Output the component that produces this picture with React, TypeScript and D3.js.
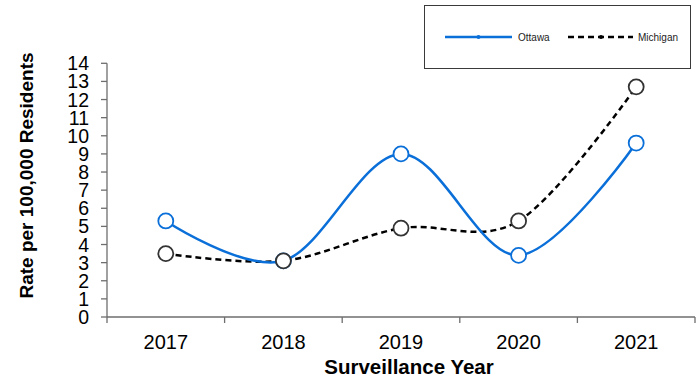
import React from "react";
import * as d3 from "d3";

const years = ["2017", "2018", "2019", "2020", "2021"];
const ottawa = [5.3, 3.1, 9.0, 3.4, 9.6];
const michigan = [3.5, 3.1, 4.9, 5.3, 12.7];
const yTicks = [0, 1, 2, 3, 4, 5, 6, 7, 8, 9, 10, 11, 12, 13, 14];

const W = 699;
const H = 381;
const left = 107;
const right = 695;
const top = 63.3;
const bottom = 317;
const blue = "#0a6fd8";
const dark = "#333333";
const axisColor = "#6e6e6e";
const font = "'Liberation Sans', Arial, sans-serif";

export default function App() {
  const x = d3.scaleBand<string>().domain(years).range([left, right]);
  const y = d3.scaleLinear().domain([0, 14]).range([bottom, top]);
  const line = d3
    .line<number>()
    .x((_, i) => (x(years[i]) as number) + x.bandwidth() / 2)
    .y((d) => y(d))
    .curve(d3.curveCatmullRom.alpha(0));
  const ticksX = years.map((yr) => x(yr) as number).concat([right]);

  return (
    <svg width={W} height={H} style={{ position: "absolute", left: 0, top: 0 }}>
      <rect width={W} height={H} fill="#fff" />
      {/* legend */}
      <rect x={424.5} y={5.5} width={266} height={63} fill="#fff" stroke="#3a3a3a" strokeWidth={1} />
      <line x1={445} x2={512} y1={37} y2={37} stroke={blue} strokeWidth={2.5} />
      <circle cx={478.5} cy={37} r={2} fill={blue} />
      <text x={518} y={40.5} fontFamily={font} fontSize={10} fill="#222">Ottawa</text>
      <line x1={568} x2={633} y1={37} y2={37} stroke="#000" strokeWidth={2.5} strokeDasharray="6,4" />
      <circle cx={601} cy={37} r={2} fill="#000" />
      <text x={638} y={40.5} fontFamily={font} fontSize={10} fill="#222">Michigan</text>

      {/* y axis */}
      <line x1={left} x2={left} y1={top} y2={bottom} stroke={axisColor} strokeWidth={1.3} />
      {yTicks.map((t) => (
        <g key={t}>
          <line x1={left - 6} x2={left} y1={y(t)} y2={y(t)} stroke={axisColor} strokeWidth={1.3} />
          <text x={89} y={y(t)} dy="0.36em" textAnchor="end" fontFamily={font} fontSize={19.5} fill="#000">
            {t}
          </text>
        </g>
      ))}
      {/* x axis */}
      <line x1={left} x2={right} y1={bottom} y2={bottom} stroke={axisColor} strokeWidth={1.3} />
      {ticksX.map((tx, i) => (
        <line key={i} x1={tx} x2={tx} y1={bottom} y2={bottom + 6} stroke={axisColor} strokeWidth={1.3} />
      ))}
      {years.map((yr) => (
        <text
          key={yr}
          x={(x(yr) as number) + x.bandwidth() / 2}
          y={348.5}
          textAnchor="middle"
          fontFamily={font}
          fontSize={20}
          fill="#000"
        >
          {yr}
        </text>
      ))}
      <text x={409} y={373.5} textAnchor="middle" fontFamily={font} fontSize={20.5} fontWeight="bold" fill="#000">
        Surveillance Year
      </text>
      <text
        transform={`translate(33,175.5) rotate(-90)`}
        textAnchor="middle"
        fontFamily={font}
        fontSize={19}
        fontWeight="bold"
        fill="#000"
      >
        Rate per 100,000 Residents
      </text>

      {/* series */}
      <path d={line(michigan) as string} fill="none" stroke="#000" strokeWidth={2.5} strokeDasharray="6,4" />
      <path d={line(ottawa) as string} fill="none" stroke={blue} strokeWidth={2.5} />
      {ottawa.map((v, i) => (
        <circle
          key={"o" + i}
          cx={(x(years[i]) as number) + x.bandwidth() / 2}
          cy={y(v)}
          r={7.5}
          fill="#fff"
          stroke={blue}
          strokeWidth={1.8}
        />
      ))}
      {michigan.map((v, i) => (
        <circle
          key={"m" + i}
          cx={(x(years[i]) as number) + x.bandwidth() / 2}
          cy={y(v)}
          r={7.5}
          fill="#fff"
          stroke={dark}
          strokeWidth={1.8}
        />
      ))}
    </svg>
  );
}
